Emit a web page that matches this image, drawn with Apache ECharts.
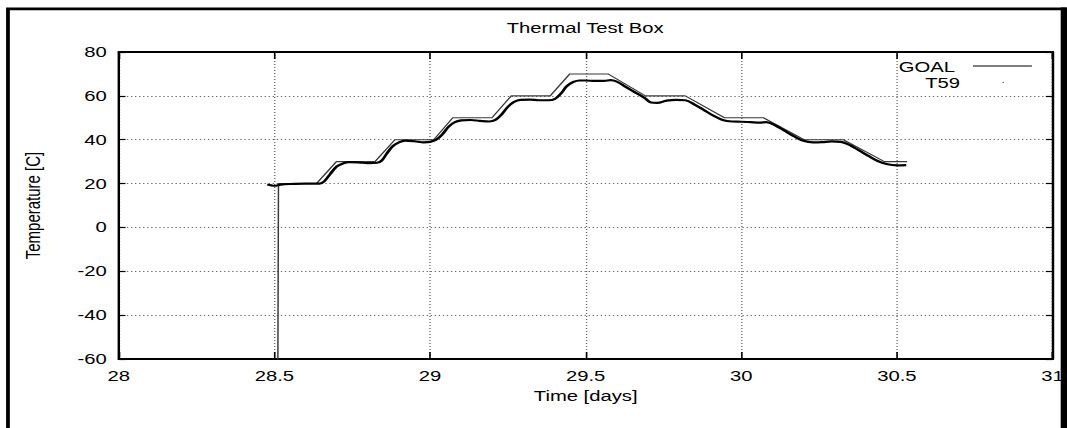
<!DOCTYPE html>
<html>
<head>
<meta charset="utf-8">
<script src="https://cdn.jsdelivr.net/npm/echarts@6/dist/echarts.min.js"></script>
<style>
html,body{margin:0;padding:0;background:#fff;overflow:hidden;width:1067px;height:428px;}
#chart{width:791px;height:428px;transform:scaleX(1.35);transform-origin:0 0;}
</style>
</head>
<body>
<div id="chart"></div>
<script>
const titleText = 'Thermal Test Box';
const xName = 'Time [days]';
const yName = 'Temperature [C]';
const seriesNames = ['GOAL', 'T59'];
const xTicks = [28, 28.5, 29, 29.5, 30, 30.5, 31];
const yTicks = [-60, -40, -20, 0, 20, 40, 60, 80];

const goalX = [28.511, 28.513, 28.635, 28.699, 28.823, 28.887, 29.012, 29.073, 29.199, 29.261, 29.386, 29.449, 29.572, 29.692, 29.820, 29.946, 30.071, 30.202, 30.328, 30.460, 30.533];
const goalY = [-65, 20, 20, 30, 30, 40, 40, 50, 50, 60, 60, 70, 70, 60, 60, 50, 50, 40, 40, 30, 30];

const t59X = [28.477, 28.49, 28.50, 28.52, 28.55, 28.60, 28.645, 28.66, 28.68, 28.70, 28.72, 28.74, 28.77, 28.80, 28.83, 28.845, 28.86, 28.88, 28.90, 28.92, 28.95, 28.98, 29.00, 29.02, 29.04, 29.06, 29.08, 29.10, 29.13, 29.16, 29.19, 29.21, 29.23, 29.25, 29.27, 29.29, 29.32, 29.35, 29.38, 29.40, 29.42, 29.44, 29.46, 29.48, 29.50, 29.53, 29.56, 29.58, 29.60, 29.63, 29.66, 29.69, 29.71, 29.73, 29.76, 29.79, 29.82, 29.85, 29.88, 29.91, 29.94, 29.97, 30.00, 30.03, 30.06, 30.08, 30.11, 30.14, 30.17, 30.20, 30.23, 30.26, 30.29, 30.32, 30.35, 30.38, 30.41, 30.44, 30.47, 30.50, 30.53];
const t59Y = [19.6, 19.2, 19.0, 19.5, 19.8, 20.0, 20.0, 21.0, 24.5, 27.8, 29.2, 29.8, 29.7, 29.3, 29.5, 30.5, 33.5, 37.0, 38.8, 39.6, 39.3, 38.8, 39.0, 40.0, 42.5, 46.0, 48.0, 48.8, 49.0, 48.6, 48.3, 49.0, 51.5, 55.0, 57.2, 58.2, 58.3, 58.0, 58.0, 58.5, 61.0, 64.5, 66.3, 67.0, 67.0, 66.8, 66.8, 67.2, 66.5, 64.0, 61.5, 59.0, 57.0, 56.8, 57.8, 58.2, 58.0, 56.0, 53.5, 51.0, 49.0, 48.3, 48.2, 48.0, 47.8, 48.0, 46.5, 44.0, 41.5, 39.5, 38.8, 38.9, 39.2, 39.0, 37.5, 35.0, 32.5, 30.2, 28.8, 28.3, 28.4];

const FONT = "'Liberation Sans', Arial, sans-serif";
const xMin = xTicks[0], xMax = xTicks[xTicks.length - 1], xStep = xTicks[1] - xTicks[0];
const yMin = yTicks[0], yMax = yTicks[yTicks.length - 1], yStep = yTicks[1] - yTicks[0];

const zip = (a, b) => a.map((v, i) => [v, b[i]]);

const chart = echarts.init(document.getElementById('chart'), null, {renderer: 'svg'});

const gridSplit = {show: true, lineStyle: {color: '#6a6a6a', width: 1, type: [1, 2]}};
const axLine = {show: true, onZero: false, lineStyle: {color: '#000', width: 1.8}};

chart.setOption({
  animation: false,
  backgroundColor: '#fff',
  grid: {left: 88, right: 8.5, top: 52, bottom: 69, containLabel: false},
  xAxis: [{
    type: 'value', min: xMin, max: xMax, interval: xStep, position: 'bottom',
    name: xName, nameLocation: 'middle', nameGap: 29,
    nameTextStyle: {color: '#000', fontFamily: FONT, fontSize: 15},
    axisLine: axLine,
    axisTick: {show: true, inside: true, length: 7, lineStyle: {color: '#000', width: 1.2}},
    axisLabel: {color: '#000', fontFamily: FONT, fontSize: 15, margin: 9},
    splitLine: gridSplit
  }, {
    type: 'value', min: xMin, max: xMax, interval: xStep, position: 'top',
    axisLine: axLine,
    axisTick: {show: true, inside: true, length: 7, lineStyle: {color: '#000', width: 1.2}},
    axisLabel: {show: false}, splitLine: {show: false}
  }],
  yAxis: [{
    type: 'value', min: yMin, max: yMax, interval: yStep, position: 'left',
    name: yName, nameLocation: 'middle', nameGap: 56, nameRotate: 90,
    nameTextStyle: {color: '#000', fontFamily: FONT, fontSize: 15},
    axisLine: axLine,
    axisTick: {show: true, inside: true, length: 5, lineStyle: {color: '#000', width: 1.2}},
    axisLabel: {color: '#000', fontFamily: FONT, fontSize: 15, margin: 9},
    splitLine: gridSplit
  }, {
    type: 'value', min: yMin, max: yMax, interval: yStep, position: 'right',
    axisLine: axLine,
    axisTick: {show: true, inside: true, length: 5, lineStyle: {color: '#000', width: 1.2}},
    axisLabel: {show: false}, splitLine: {show: false}
  }],
  series: [{
    name: seriesNames[0], type: 'line', xAxisIndex: 0, yAxisIndex: 0,
    data: zip(goalX, goalY), showSymbol: false, symbol: 'none', clip: true,
    lineStyle: {color: '#3a3a3a', width: 1.1}, z: 3
  }, {
    name: seriesNames[1], type: 'line', xAxisIndex: 0, yAxisIndex: 0,
    data: zip(t59X, t59Y), showSymbol: false, symbol: 'none', smooth: 0.35, clip: true,
    lineStyle: {color: '#000', width: 2.2}, z: 4
  }],
  graphic: [
    {type: 'text', x: 433.5, y: 28, style: {text: titleText, fill: '#000', font: '15px ' + FONT, textAlign: 'center', textVerticalAlign: 'middle'}},
    {type: 'text', x: 707.4, y: 67, style: {text: seriesNames[0], fill: '#000', font: '15px ' + FONT, textAlign: 'right', textVerticalAlign: 'middle'}},
    {type: 'line', shape: {x1: 720.7, y1: 66, x2: 764.4, y2: 66}, style: {stroke: '#000', lineWidth: 1}},
    {type: 'text', x: 711.1, y: 83, style: {text: seriesNames[1], fill: '#000', font: '15px ' + FONT, textAlign: 'right', textVerticalAlign: 'middle'}},
    {type: 'rect', shape: {x: 742.6, y: 82, width: 1, height: 1}, style: {fill: '#555'}},
    {type: 'polyline', shape: {points: [[5.9, 440], [5.9, 8.8], [790, 8.8]]}, style: {stroke: '#000', lineWidth: 2.8, fill: null}},
    {type: 'line', shape: {x1: 788.2, y1: 7.5, x2: 788.2, y2: 440}, style: {stroke: '#000', lineWidth: 5}}
  ]
});
</script>
</body>
</html>
